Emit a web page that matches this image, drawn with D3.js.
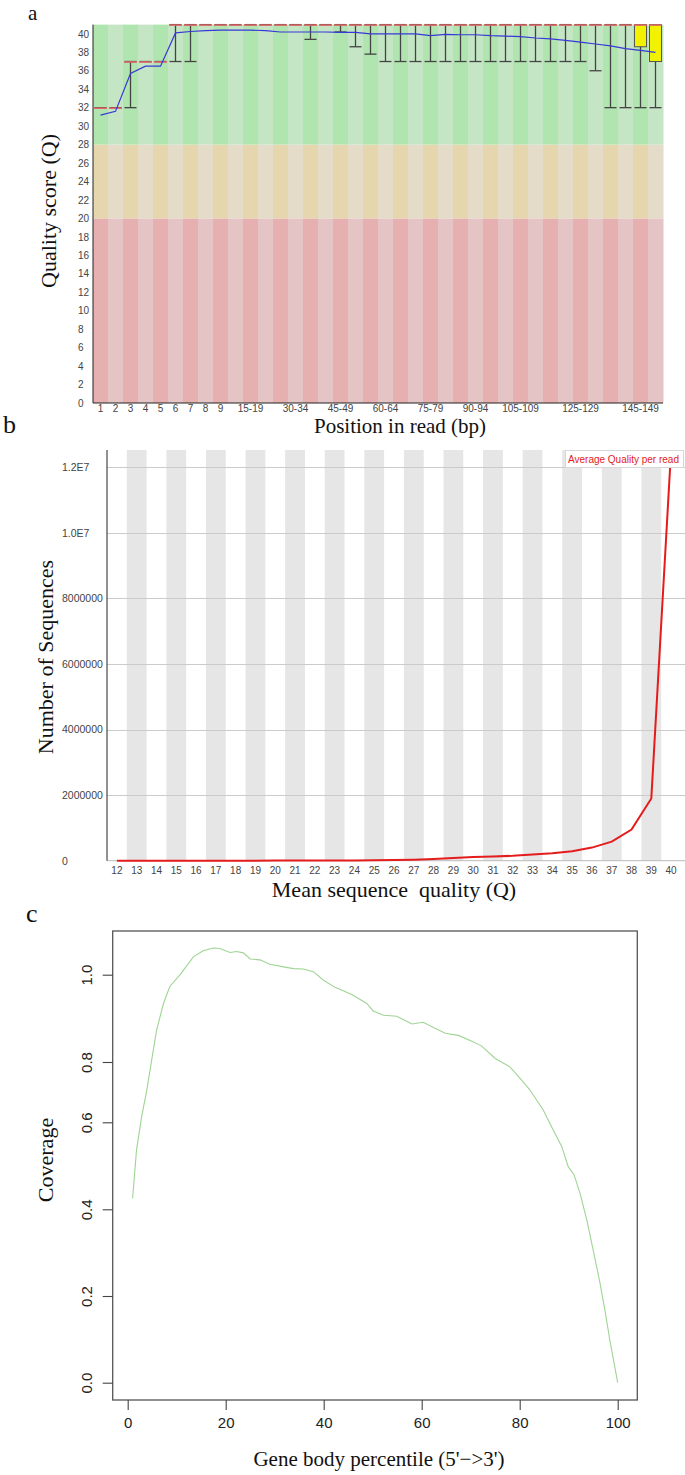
<!DOCTYPE html>
<html>
<head>
<meta charset="utf-8">
<script src="https://cdn.jsdelivr.net/npm/d3@7"></script>
<style>
body { margin: 0; background: #fff; }
svg { display: block; }
.serif { font-family: "Liberation Serif", "Times New Roman", serif; fill: #111; }
.small text { font-family: "Liberation Sans", Arial, sans-serif; }
</style>
</head>
<body>
<svg id="fig" width="685" height="1475"></svg>
<script>
// ---------- a: per base sequence quality ----------
var positions = ["1", "2", "3", "4", "5", "6", "7", "8", "9",
    "10-14", "15-19", "20-24", "25-29", "30-34", "35-39", "40-44", "45-49",
    "50-54", "55-59", "60-64", "65-69", "70-74", "75-79", "80-84", "85-89",
    "90-94", "95-99", "100-104", "105-109", "110-114", "115-119", "120-124",
    "125-129", "130-134", "135-139", "140-144", "145-149", "150-151"];
var positionLabels = ["1", "2", "3", "4", "5", "6", "7", "8", "9", "15-19", "30-34",
    "45-49", "60-64", "75-79", "90-94", "105-109", "125-129", "145-149"];
var meanQ = [31.2, 31.6, 35.7, 36.5, 36.5, 40.1, 40.25, 40.35, 40.4, 40.4, 40.4, 40.35,
    40.2, 40.2, 40.2, 40.2, 40.15, 40.15, 40.0, 40.0, 40.0, 40.0, 39.8, 39.95, 39.9,
    39.9, 39.8, 39.75, 39.7, 39.55, 39.45, 39.3, 39.1, 38.9, 38.7, 38.4, 38.2, 38.0];
var medianQ = [32, 32, 37, 37, 37, 41, 41, 41, 41, 41, 41, 41, 41, 41, 41, 41, 41, 41, 41,
    41, 41, 41, 41, 41, 41, 41, 41, 41, 41, 41, 41, 41, 41, 41, 41, 41, 41, 41];
var lowerQuartile = [32, 32, 37, 37, 37, 41, 41, 41, 41, 41, 41, 41, 41, 41, 41, 41, 41, 41, 41,
    41, 41, 41, 41, 41, 41, 41, 41, 41, 41, 41, 41, 41, 41, 41, 41, 41, 38.6, 37];
var upperQuartile = [32, 32, 37, 37, 37, 41, 41, 41, 41, 41, 41, 41, 41, 41, 41, 41, 41, 41, 41,
    41, 41, 41, 41, 41, 41, 41, 41, 41, 41, 41, 41, 41, 41, 41, 41, 41, 41, 41];
var percentile10 = [32, 32, 32, 37, 37, 37, 37, 41, 41, 41, 41, 41, 41, 41, 39.4, 41, 40.2,
    38.6, 37.8, 37, 37, 37, 37, 37, 37, 37, 37, 37, 37, 37, 37, 37, 37, 36, 32, 32, 32, 32];
var percentile90 = [32, 32, 37, 37, 37, 41, 41, 41, 41, 41, 41, 41, 41, 41, 41, 41, 41, 41, 41,
    41, 41, 41, 41, 41, 41, 41, 41, 41, 41, 41, 41, 41, 41, 41, 41, 41, 41, 41];
var qualityTicks = [0, 2, 4, 6, 8, 10, 12, 14, 16, 18, 20, 22, 24, 26, 28, 30, 32, 34, 36, 38, 40];
var zoneLimits = [0, 20, 28, 41];

// ---------- b: per sequence quality scores ----------
var meanQualityBins = [12, 13, 14, 15, 16, 17, 18, 19, 20, 21, 22, 23, 24, 25, 26,
    27, 28, 29, 30, 31, 32, 33, 34, 35, 36, 37, 38, 39, 40];
var sequenceCounts = [200, 300, 400, 600, 800, 1000, 1500, 2000, 2500, 3500, 4500, 6000,
    8000, 12000, 20000, 30000, 50000, 80000, 110000, 130000, 150000, 190000, 230000,
    290000, 400000, 580000, 950000, 1900000, 12530000];
var countTicks = [0, 2000000, 4000000, 6000000, 8000000, 10000000, 12000000];

// ---------- c: gene body coverage ----------
var bodyPercentile = [1, 1.8, 2.85, 3.9, 4.9, 5.9, 7.3, 8.6, 10.7, 13.4, 15.4, 17.5, 18.8,
    20.9, 22.2, 23.6, 25, 27, 29, 31.8, 33.8, 35.8, 37.9, 39.9, 42.3, 44, 46, 48.8, 50.1,
    52.2, 54.9, 58, 60.3, 62.4, 64.8, 67.5, 69.9, 72.2, 75, 78, 80.4, 82.1, 84.8, 86.5,
    88.6, 89.9, 91.1, 92.3, 93.7, 95, 96.4, 97.4, 98.4, 100];
var coverage = [0.425, 0.536, 0.619, 0.707, 0.805, 0.873, 0.934, 0.973, 1.0, 1.041, 1.055,
    1.061, 1.06, 1.051, 1.053, 1.05, 1.036, 1.034, 1.024, 1.018, 1.014, 1.013, 1.007,
    0.988, 0.971, 0.963, 0.953, 0.934, 0.917, 0.907, 0.905, 0.887, 0.891, 0.879, 0.866,
    0.861, 0.849, 0.837, 0.808, 0.784, 0.74, 0.707, 0.641, 0.59, 0.544, 0.498, 0.479,
    0.437, 0.375, 0.306, 0.229, 0.167, 0.098, 0.0];
var coverageTicks = [0.0, 0.2, 0.4, 0.6, 0.8, 1.0];
var percentileTicks = [0, 20, 40, 60, 80, 100];

var svg = d3.select("#fig");

function serifText(x, y, txt, size, rotate) {
    var t = svg.append("text").attr("class", "serif")
        .style("font-size", size + "px")
        .style("white-space", "pre")
        .text(txt);
    if (rotate) {
        t.attr("text-anchor", "middle").attr("transform", "translate(" + x + "," + y + ") rotate(-90)");
    } else {
        t.attr("x", x).attr("y", y);
    }
    return t;
}

// ======== panel a ========
function drawPanelA() {
    var x = d3.scaleBand().domain(positions).range([93, 663]);
    var y = d3.scaleLinear().domain([0, 41]).range([403, 24.6]);
    var bw = x.bandwidth();
    var g = svg.append("g");

    var zoneColors = [["#e6afb0", "#e5c4c5"], ["#e6d6ae", "#e4dcc8"], ["#b0e5b0", "#c5e6c5"]];
    for (var z = 0; z < 3; z++) {
        g.selectAll(null).data(positions).enter().append("rect")
            .attr("x", function(d) { return x(d); })
            .attr("width", bw + 0.5)
            .attr("y", y(zoneLimits[z + 1]))
            .attr("height", y(zoneLimits[z]) - y(zoneLimits[z + 1]))
            .attr("fill", function(d, i) { return zoneColors[z][i % 2]; });
    }

    var cx = function(i) { return x(positions[i]) + bw / 2; };
    var half = 6;

    positions.forEach(function(p, i) {
        // box
        if (upperQuartile[i] > lowerQuartile[i]) {
            g.append("rect")
                .attr("x", cx(i) - half).attr("width", half * 2)
                .attr("y", y(upperQuartile[i]))
                .attr("height", y(lowerQuartile[i]) - y(upperQuartile[i]))
                .attr("fill", "#f2f200").attr("stroke", "#555").attr("stroke-width", 1);
        } else {
            g.append("line")
                .attr("x1", cx(i) - half).attr("x2", cx(i) + half)
                .attr("y1", y(lowerQuartile[i])).attr("y2", y(lowerQuartile[i]))
                .attr("stroke", "#444").attr("stroke-width", 1.3);
        }
        // whiskers
        if (percentile10[i] < lowerQuartile[i]) {
            g.append("line")
                .attr("x1", cx(i)).attr("x2", cx(i))
                .attr("y1", y(lowerQuartile[i])).attr("y2", y(percentile10[i]))
                .attr("stroke", "#444").attr("stroke-width", 1.3);
            g.append("line")
                .attr("x1", cx(i) - half).attr("x2", cx(i) + half)
                .attr("y1", y(percentile10[i])).attr("y2", y(percentile10[i]))
                .attr("stroke", "#444").attr("stroke-width", 1.3);
        }
        if (percentile90[i] > upperQuartile[i]) {
            g.append("line")
                .attr("x1", cx(i)).attr("x2", cx(i))
                .attr("y1", y(upperQuartile[i])).attr("y2", y(percentile90[i]))
                .attr("stroke", "#444").attr("stroke-width", 1.3);
        }
        // median
        g.append("line")
            .attr("x1", cx(i) - half - 0.5).attr("x2", cx(i) + half + 0.5)
            .attr("y1", y(medianQ[i]) + 0.5).attr("y2", y(medianQ[i]) + 0.5)
            .attr("stroke", "#e06868").attr("stroke-width", 1.6);
    });

    // mean line
    g.append("path")
        .datum(meanQ)
        .attr("fill", "none")
        .attr("stroke", "#3838d8")
        .attr("stroke-width", 1.2)
        .attr("d", d3.line().x(function(d, i) { return cx(i); }).y(function(d) { return y(d); }));

    // axes (FastQC puts the y labels flush left)
    var ax = g.append("g").attr("class", "small")
        .attr("transform", "translate(93,0)")
        .call(d3.axisLeft(y).tickValues(qualityTicks).tickSize(0));
    ax.select(".domain").remove();
    ax.selectAll("text").style("font-size", "10px").attr("fill", "#444")
        .attr("text-anchor", "start").attr("x", -15);

    var bx = g.append("g").attr("class", "small")
        .attr("transform", "translate(0,403)")
        .call(d3.axisBottom(x).tickValues(positionLabels).tickSize(0).tickPadding(2));
    bx.select(".domain").remove();
    bx.selectAll("text").style("font-size", "10px").attr("fill", "#444");

    g.append("line").attr("x1", 93).attr("x2", 93).attr("y1", 24.6).attr("y2", 403)
        .attr("stroke", "#222");
    g.append("line").attr("x1", 93).attr("x2", 663).attr("y1", 403).attr("y2", 403)
        .attr("stroke", "#222");

    serifText(28, 20, "a", 21);
    serifText(56, 211, "Quality score (Q)", 22, true);
    serifText(400, 433, "Position in read (bp)", 21).attr("text-anchor", "middle");
}

// ======== panel b ========
function drawPanelB() {
    var x = d3.scaleBand().domain(meanQualityBins).range([107, 681]);
    var y = d3.scaleLinear().domain([0, 12530000]).range([860.7, 450]);
    var bw = x.bandwidth();
    var g = svg.append("g");

    g.selectAll(null).data(meanQualityBins.filter(function(d, i) { return i % 2 === 1; }))
        .enter().append("rect")
        .attr("x", function(d) { return x(d); })
        .attr("width", bw)
        .attr("y", 450)
        .attr("height", y(0) - 450)
        .attr("fill", "#e6e6e6");

    g.selectAll(null).data(countTicks.slice(1)).enter().append("line")
        .attr("x1", 107).attr("x2", 685)
        .attr("y1", function(d) { return Math.round(y(d)) + 0.5; })
        .attr("y2", function(d) { return Math.round(y(d)) + 0.5; })
        .attr("stroke", "#cbcbcb");
    g.append("line").attr("x1", 107).attr("x2", 685).attr("y1", y(0)).attr("y2", y(0))
        .attr("stroke", "#bbb");

    var ax = g.append("g").attr("class", "small")
        .attr("transform", "translate(107,0)")
        .call(d3.axisLeft(y).tickValues(countTicks).tickSize(0)
            .tickFormat(function(d) { return d >= 10000000 ? (d / 1e7).toFixed(1) + "E7" : String(d); }));
    ax.select(".domain").remove();
    ax.selectAll("text").style("font-size", "10.5px").attr("fill", "#444")
        .attr("text-anchor", "start").attr("x", -45);

    var bx = g.append("g").attr("class", "small")
        .attr("transform", "translate(0," + y(0) + ")")
        .call(d3.axisBottom(x).tickSize(0).tickPadding(6));
    bx.select(".domain").remove();
    bx.selectAll("text").style("font-size", "10px").attr("fill", "#444");

    g.append("line").attr("x1", 107).attr("x2", 107).attr("y1", 450).attr("y2", y(0))
        .attr("stroke", "#222");

    g.append("path")
        .datum(sequenceCounts)
        .attr("fill", "none")
        .attr("stroke", "#e41c1c")
        .attr("stroke-width", 2)
        .attr("d", d3.line()
            .x(function(d, i) { return x(meanQualityBins[i]) + bw / 2; })
            .y(function(d) { return y(d); }));

    // legend
    g.append("rect").attr("x", 565.5).attr("y", 450.5).attr("width", 118).attr("height", 17)
        .attr("fill", "#fff").attr("stroke", "#d8d8d8");
    g.append("text").attr("x", 568).attr("y", 463)
        .style("font-family", "Liberation Sans, Arial, sans-serif")
        .style("font-size", "10px").attr("fill", "#e41c1c")
        .text("Average Quality per read");

    serifText(3, 433, "b", 26);
    serifText(53, 657, "Number of Sequences", 22, true);
    serifText(394, 897, "Mean sequence  quality (Q)", 22).attr("text-anchor", "middle");
}

// ======== panel c ========
function drawPanelC() {
    var x = d3.scaleLinear().domain([-3.06, 104]).range([112.7, 637.3]);
    // the printed axis is not evenly spaced, so the scale follows the tick positions
    var y = d3.scaleLinear().domain(coverageTicks).range([1382.7, 1296, 1209.3, 1122.3, 1062, 974.7]);
    var g = svg.append("g");

    g.append("rect").attr("x", 112.7).attr("y", 931).attr("width", 637.3 - 112.7).attr("height", 1400 - 931)
        .attr("fill", "none").attr("stroke", "#555").attr("stroke-width", 1.3);

    g.append("path")
        .datum(coverage)
        .attr("fill", "none")
        .attr("stroke", "#9fd494")
        .attr("stroke-width", 1.1)
        .attr("d", d3.line()
            .x(function(d, i) { return x(bodyPercentile[i]); })
            .y(function(d) { return y(d); }));

    var ax = g.append("g").attr("transform", "translate(112.7,0)")
        .call(d3.axisLeft(y).tickValues(coverageTicks).tickSize(10).tickPadding(6)
            .tickFormat(d3.format(".1f")));
    ax.select(".domain").remove();
    ax.selectAll("line").attr("stroke", "#444").attr("stroke-width", 1.1);
    ax.selectAll("text")
        .style("font-family", "Liberation Sans, Arial, sans-serif")
        .style("font-size", "15px").attr("fill", "#222")
        .attr("text-anchor", "middle")
        .attr("x", 0).attr("dy", 0)
        .attr("transform", "translate(-21,0) rotate(-90)");

    var bx = g.append("g").attr("transform", "translate(0,1400)")
        .call(d3.axisBottom(x).tickValues(percentileTicks).tickSize(10).tickPadding(7));
    bx.select(".domain").remove();
    bx.selectAll("line").attr("stroke", "#444").attr("stroke-width", 1.1);
    bx.selectAll("text")
        .style("font-family", "Liberation Sans, Arial, sans-serif")
        .style("font-size", "15px").attr("fill", "#222");

    serifText(26, 922, "c", 26);
    serifText(53, 1160, "Coverage", 22, true);
    serifText(379, 1466, "Gene body percentile (5'\u2212>3')", 21).attr("text-anchor", "middle");
}

drawPanelA();
drawPanelB();
drawPanelC();
</script>
</body>
</html>
